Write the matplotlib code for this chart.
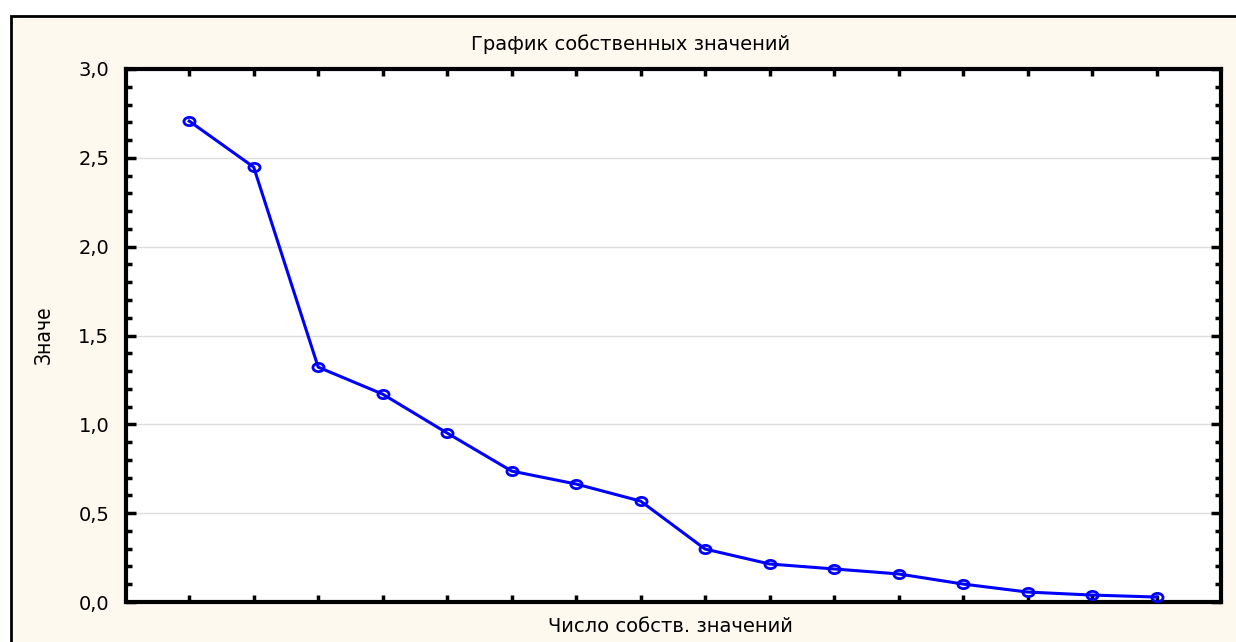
import matplotlib
matplotlib.use('Agg')
import matplotlib.pyplot as plt
from matplotlib.patches import Rectangle
from matplotlib.path import Path
from matplotlib.transforms import Affine2D
from matplotlib.ticker import MultipleLocator, FuncFormatter

plt.rcParams['font.family'] = ['DejaVu Sans']

# eigenvalue numbers and values (scree plot)
numbers = list(range(1, 17))
values = [2.707, 2.448, 1.322, 1.170, 0.951, 0.737, 0.664, 0.568,
          0.298, 0.214, 0.186, 0.158, 0.101, 0.056, 0.039, 0.028]

title = 'График собственных значений'
xlabel = 'Число собств. значений'
ylabel = 'Значе'

W, H = 1236, 642
fig = plt.figure(figsize=(W / 100, H / 100), dpi=100)
fig.patch.set_facecolor('white')

# cream outer panel with black frame
fig.patches.append(Rectangle((11 / W, -0.01), 1.02, 1 - 16 / H + 0.01,
                             transform=fig.transFigure, facecolor='#fef9ef',
                             edgecolor='black', linewidth=2, zorder=0))

ax = fig.add_axes([126 / W, 1 - 602 / H, (1221 - 126) / W, (602 - 69) / H])
ax.set_zorder(2)
ax.set_facecolor('white')

# slightly flattened circle marker
ellipse = Path.unit_circle().transformed(Affine2D().scale(1.35, 1.0))

ax.plot(numbers, values, color='#0000ff', linewidth=2.2, marker=ellipse,
        markersize=8, markerfacecolor='none', markeredgecolor='#0000ff',
        markeredgewidth=2, zorder=3, clip_on=False)

ax.set_xlim(0.02, 17.0)
ax.set_ylim(0, 3.0)
ax.set_xticks(numbers)
ax.set_xticklabels([])
ax.yaxis.set_major_locator(MultipleLocator(0.5))
ax.yaxis.set_minor_locator(MultipleLocator(0.1))
ax.yaxis.set_major_formatter(FuncFormatter(lambda v, p: f'{v:.1f}'.replace('.', ',')))

ax.grid(axis='y', which='major', color='#dddddd', linewidth=1)
ax.set_axisbelow(True)

ax.tick_params(axis='both', which='both', direction='in', top=True, right=True,
               width=2.5, colors='black', labelsize=14)
ax.tick_params(axis='x', which='major', length=5)
ax.tick_params(axis='y', which='major', length=7, pad=12)
ax.tick_params(axis='y', which='minor', length=4)
for s in ax.spines.values():
    s.set_linewidth(3)
    s.set_color('black')

fig.text(631 / W, 1 - 44 / H, title, ha='center', va='center', fontsize=14)
fig.text(670 / W, 1 - 626 / H, xlabel, ha='center', va='center', fontsize=14)
fig.text(44 / W, 1 - 335 / H, ylabel, ha='center', va='center', fontsize=15,
         rotation=90, fontstretch='condensed')

fig.savefig('out.png', dpi=100)
